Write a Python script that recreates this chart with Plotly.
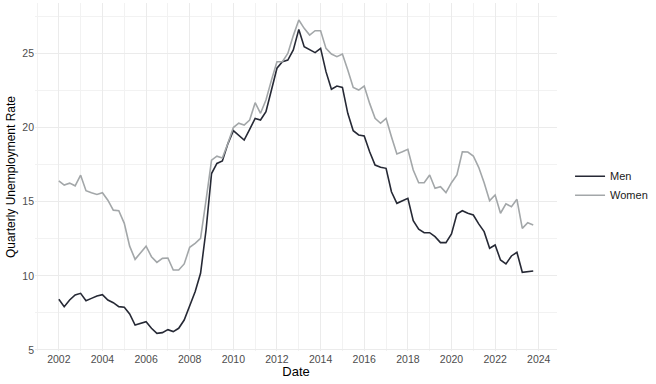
import pandas as pd
import plotly.graph_objects as go

dates = pd.date_range("2002-01-01", periods=88, freq="QS")

men = [8.42, 7.92, 8.37, 8.71, 8.82, 8.32, 8.48, 8.64, 8.73, 8.37,
       8.19, 7.92, 7.88, 7.43, 6.68, 6.80, 6.91, 6.46, 6.12, 6.17,
       6.37, 6.24, 6.46, 7.02, 7.92, 8.93, 10.17, 13.09, 16.9, 17.58,
       17.75, 18.9, 19.79, 19.5, 19.16, 19.88, 20.62, 20.51, 21.07, 22.53,
       24.0, 24.44, 24.55, 25.23, 26.62, 25.45, 25.23, 25.05, 25.34, 23.77,
       22.58, 22.8, 22.71, 20.96, 19.79, 19.5, 19.43, 18.37, 17.47, 17.32,
       17.25, 15.67, 14.89, 15.07, 15.23, 13.72, 13.14, 12.91, 12.91, 12.64,
       12.24, 12.24, 12.82, 14.17, 14.39, 14.22, 14.1, 13.5, 12.98, 11.86,
       12.08, 11.07, 10.8, 11.34, 11.59, 10.24, 10.28, 10.33]

women = [16.41, 16.12, 16.25, 16.07, 16.79, 15.74, 15.6, 15.49, 15.6, 15.1,
         14.43, 14.39, 13.54, 12.0, 11.11, 11.56, 12.0, 11.29, 10.91, 11.18,
         11.2, 10.39, 10.39, 10.8, 11.92, 12.19, 12.53, 15.1, 17.8, 18.07,
         17.95, 18.93, 20.0, 20.29, 20.17, 20.51, 21.68, 20.96, 21.86, 23.2,
         24.44, 24.44, 25.0, 26.2, 27.25, 26.69, 26.24, 26.53, 26.53, 25.34,
         24.96, 24.78, 24.96, 23.88, 22.71, 22.53, 22.8, 21.63, 20.62, 20.29,
         20.62, 19.38, 18.22, 18.37, 18.53, 17.14, 16.28, 16.28, 16.8, 15.9,
         16.01, 15.61, 16.28, 16.8, 18.37, 18.35, 18.08, 17.32, 16.28, 15.07,
         15.45, 14.22, 14.85, 14.66, 15.16, 13.2, 13.58, 13.43]

series_names = ["Men", "Women"]
series_colors = ["#262935", "#a3a7a9"]

fig = go.Figure()
for name, vals, col in zip(series_names, [men, women], series_colors):
    fig.add_trace(go.Scatter(x=dates, y=vals, mode="lines", name=name,
                             line=dict(color=col, width=1.6)))

grid = "#ebebeb"
fig.update_layout(
    width=656, height=384,
    margin=dict(l=35, r=91, t=3, b=33),
    paper_bgcolor="white", plot_bgcolor="white",
    font=dict(family="Liberation Sans, Arial, sans-serif", color="#4d4d4d", size=10),
    showlegend=True,
    legend=dict(x=1.025, y=0.475, xanchor="left", yanchor="middle",
                font=dict(size=11, color="#1a1a1a"), bgcolor="rgba(0,0,0,0)",
                itemwidth=30, tracegroupgap=2),
    xaxis=dict(
        type="date",
        range=["2000-11-28", "2024-11-02"],
        tick0="2002-01-01", dtick="M24", tickformat="%Y",
        showgrid=True, gridcolor=grid, gridwidth=1,
        minor=dict(dtick="M12", tick0="2001-01-01", showgrid=True, gridcolor="#f2f2f2", gridwidth=1),
        zeroline=False, showline=False, ticks="",
        tickfont=dict(size=10.5, color="#4d4d4d"),
        title=dict(text="Date", font=dict(size=13, color="#000000"), standoff=3),
        automargin=False,
    ),
    yaxis=dict(
        range=[4.93, 28.4],
        tickvals=[5, 10, 15, 20, 25],
        showgrid=True, gridcolor=grid, gridwidth=1,
        minor=dict(tickvals=[7.5, 12.5, 17.5, 22.5, 27.5], showgrid=True, gridcolor="#f2f2f2", gridwidth=1),
        zeroline=False, showline=False, ticks="",
        tickfont=dict(size=10.5, color="#4d4d4d"),
        title=dict(text="Quarterly Unemployment Rate", font=dict(size=12, color="#000000"), standoff=4),
        automargin=False,
    ),
)

fig.write_html("out.html", config={"displayModeBar": False},
               post_script="document.body.style.margin='0';document.body.style.padding='0';")
